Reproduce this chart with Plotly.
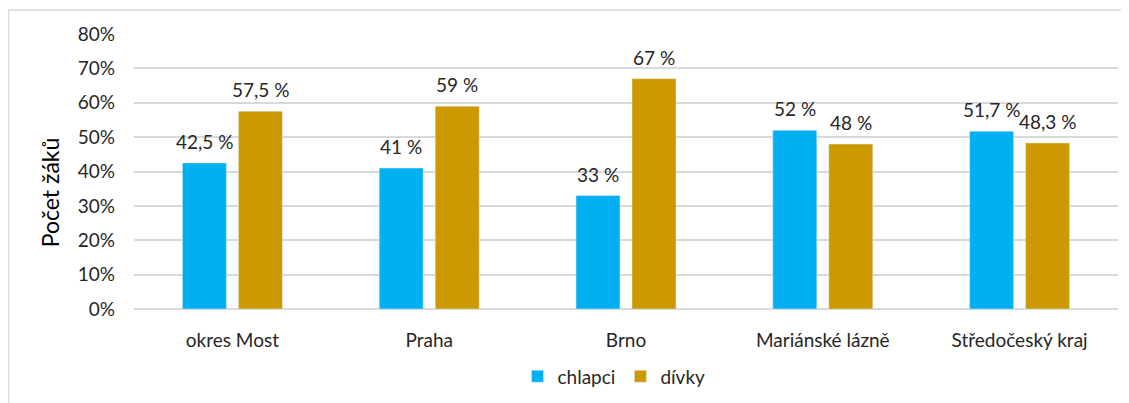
import plotly.graph_objects as go

categories = ["okres Most", "Praha", "Brno", "Mariánské lázně", "Středočeský kraj"]
chlapci = [0.425, 0.41, 0.33, 0.52, 0.517]
divky = [0.575, 0.59, 0.67, 0.48, 0.483]
chlapci_labels = ["42,5 %", "41 %", "33 %", "52 %", "51,7 %"]
divky_labels = ["57,5 %", "59 %", "67 %", "48 %", "48,3 %"]
tick_vals = [0, 0.1, 0.2, 0.3, 0.4, 0.5, 0.6, 0.7, 0.8]
tick_text = ["0%", "10%", "20%", "30%", "40%", "50%", "60%", "70%", "80%"]

FONT = "Lato"
TXT = "#262626"

# page body has an 8px margin; figure coordinates are page coordinates minus 8
W, H = 1121, 395
L, T, R, B = 126, 26, 11, 93.5
PW = W - L - R
PH = H - T - B
CAT_W = PW / len(categories)
BAR_W = 44
GAP = 12
SLOT = BAR_W + GAP

fig = go.Figure()
fig.add_trace(go.Bar(name="chlapci", x=categories, y=chlapci, marker_color="#00B0F0"))
fig.add_trace(go.Bar(name="dívky", x=categories, y=divky, marker_color="#CC9900"))

for vals, labels, sign in ((chlapci, chlapci_labels, -1), (divky, divky_labels, 1)):
    for cat, v, lab in zip(categories, vals, labels):
        fig.add_annotation(x=cat, y=v, text=lab, xref="x", yref="y",
                           xanchor="center", yanchor="bottom", showarrow=False,
                           xshift=sign * SLOT / 2, yshift=8,
                           font=dict(family=FONT, size=19, color=TXT))

fig.update_layout(
    width=W, height=H,
    margin=dict(l=L, r=R, t=T, b=B, autoexpand=False),
    paper_bgcolor="white", plot_bgcolor="white",
    barmode="group", bargap=1 - 2 * SLOT / CAT_W, bargroupgap=GAP / SLOT,
    font=dict(family=FONT, size=18, color=TXT),
    showlegend=True,
    legend=dict(orientation="h", x=0.5 - 12 / PW, xanchor="center", y=-67.5 / PH, yanchor="middle",
                font=dict(family=FONT, size=19, color=TXT), itemwidth=30,
                traceorder="normal"),
    xaxis=dict(showline=False, ticks="", ticklabelstandoff=18,
               tickfont=dict(family=FONT, size=19, color=TXT)),
    yaxis=dict(range=[0, 0.8], tickvals=tick_vals, ticktext=tick_text,
               showgrid=True, gridcolor="#D9D9D9", gridwidth=1.5,
               zeroline=True, zerolinecolor="#D9D9D9", zerolinewidth=1.5,
               ticks="", ticklabelstandoff=18,
               tickfont=dict(family=FONT, size=19, color=TXT)),
)

fig.add_annotation(text="Počet žáků", xref="paper", yref="paper",
                   x=(42 - L) / PW, y=(T + PH - (192.5 - 8)) / PH,
                   xanchor="center", yanchor="middle", textangle=-90, showarrow=False,
                   font=dict(family=FONT, size=23, color="#000000"))

bx = (0.5 - L) / PW
by = (T + PH - 2) / PH
fig.add_shape(type="line", xref="paper", yref="paper", x0=bx, x1=1.05, y0=by, y1=by,
              line=dict(color="#D9D9D9", width=1.5))
fig.add_shape(type="line", xref="paper", yref="paper", x0=bx, x1=bx, y0=by, y1=-0.5,
              line=dict(color="#D9D9D9", width=1.5))

fig.write_html("out.html")
